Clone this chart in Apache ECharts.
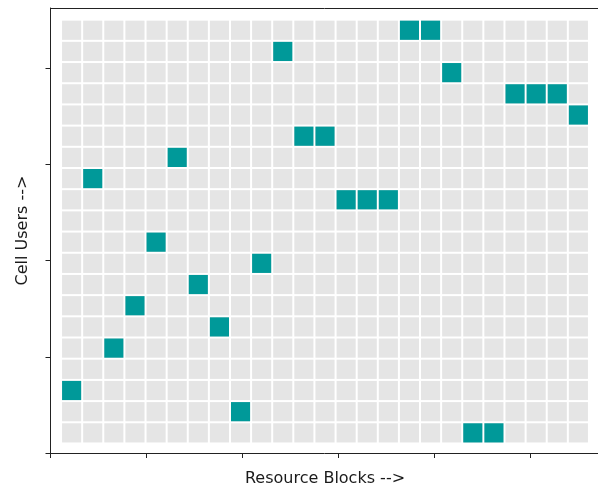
<!DOCTYPE html>
<html>
<head>
<meta charset="utf-8">
<script src="https://cdn.jsdelivr.net/npm/echarts@6/dist/echarts.min.js"></script>
<style>
html,body{margin:0;padding:0;background:#fff;}
#c{width:598px;height:485px;}
</style>
</head>
<body>
<div id="c"></div>
<script>
// Grid size: resource blocks (columns) and cell users (rows, 0 = bottom)
const numResourceBlocks = 25;
const numUsers = 20;

// Allocated cells: user row (from bottom) and resource block index
const allocUser = [19, 19, 18, 17, 16, 16, 16, 15, 14, 14, 13, 12, 11, 11, 11, 9, 8, 7, 6, 5, 4, 2, 1, 0, 0];
const allocRB   = [16, 17, 10, 18, 21, 22, 23, 24, 11, 12,  5,  1, 13, 14, 15, 4, 9, 6, 3, 7, 2, 0, 8, 19, 20];

// Unlabelled axis tick positions
const xTicks = [0, 1, 2, 3, 4, 5];
const yTicks = [0, 1, 2, 3, 4];

const xLabel = 'Resource Blocks -->';
const yLabel = 'Cell Users -->';

const bgCells = [];
for (let u = 0; u < numUsers; u++) {
  for (let r = 0; r < numResourceBlocks; r++) bgCells.push([r, u]);
}
const allocCells = allocUser.map((u, i) => [allocRB[i], u]);

function cellRenderer(color) {
  return function (params, api) {
    const x = api.value(0), y = api.value(1);
    const p = api.coord([x - 0.5, y + 0.5]);
    const s = api.size([1, 1]);
    return {
      type: 'rect',
      shape: { x: p[0] + 1, y: p[1] + 1, width: s[0] - 2, height: s[1] - 2 },
      style: { fill: color }
    };
  };
}

const font = { fontFamily: 'DejaVu Sans', fontSize: 16, color: '#1a1a1a' };
const axisLine = { show: true, onZero: false, lineStyle: { color: '#222', width: 1 } };

const chart = echarts.init(document.getElementById('c'), null, { renderer: 'canvas' });
chart.setOption({
  animation: false,
  backgroundColor: '#fff',
  grid: { left: 50.5, top: 8, width: 549, height: 445, containLabel: false, outerBoundsMode: 'none' },
  xAxis: [
    { type: 'value', min: -1, max: numResourceBlocks, show: false },
    {
      type: 'value', min: 0, max: 549 / 96, position: 'bottom',
      axisLine: axisLine,
      axisTick: { show: true, length: 5, inside: false, customValues: xTicks, lineStyle: { color: '#222' } },
      axisLabel: { show: false },
      splitLine: { show: false },
      name: xLabel, nameLocation: 'middle', nameGap: 17.5, nameTextStyle: font
    },
    {
      type: 'value', min: 0, max: 1, position: 'top',
      axisLine: axisLine, axisTick: { show: false }, axisLabel: { show: false }, splitLine: { show: false }
    }
  ],
  yAxis: [
    { type: 'value', min: -0.95, max: numUsers + 0.05, show: false },
    {
      type: 'value', min: 0, max: 445 / 96.25, position: 'left',
      axisLine: axisLine,
      axisTick: { show: true, length: 5, inside: false, customValues: yTicks, lineStyle: { color: '#222' } },
      axisLabel: { show: false },
      splitLine: { show: false },
      name: yLabel, nameLocation: 'middle', nameGap: 20, nameTextStyle: font
    }
  ],
  series: [
    {
      type: 'custom', xAxisIndex: 0, yAxisIndex: 0, silent: true,
      renderItem: cellRenderer('#e5e5e5'), data: bgCells
    },
    {
      type: 'custom', xAxisIndex: 0, yAxisIndex: 0, silent: true,
      renderItem: cellRenderer('#009999'), data: allocCells
    }
  ]
});
</script>
</body>
</html>
